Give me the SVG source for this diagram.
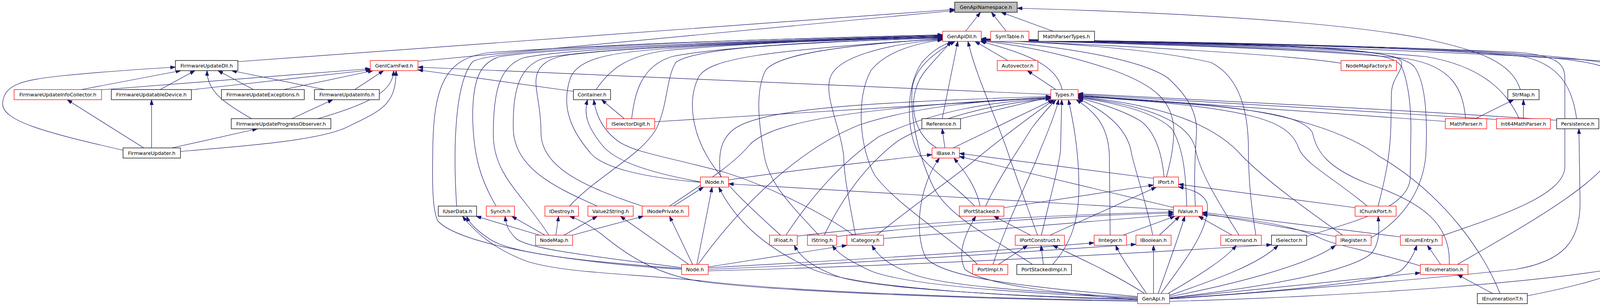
<svg xmlns="http://www.w3.org/2000/svg" width="4298" height="784" viewBox="0 0 4298 784">
<style>
.n rect{fill:#fff;stroke:#000;stroke-width:1.3}
.n.r rect{stroke:#ff0000}
.n.g rect{fill:#bfbfbf}
.n text{font-family:"DejaVu Sans","Liberation Sans",sans-serif;font-size:12.8px;text-anchor:middle;fill:#000}
#edges path{fill:none;stroke:#191970;stroke-width:1.2;marker-end:url(#arr)}
</style>
<defs>
<marker id="arr" markerUnits="userSpaceOnUse" markerWidth="13" markerHeight="9" refX="13" refY="4.5" orient="auto">
<path d="M0,0 L13,4.5 L0,9 z" fill="#191970" stroke="#191970" stroke-width="1"/>
</marker>
</defs>
<rect width="4298" height="784" fill="#fff"/>
<g id="edges">
<path d="M609,158 L2444,24"/>
<path d="M1070,157 L2444,27"/>
<path d="M208,229.5 L463,181"/>
<path d="M410,229.5 L499,181"/>
<path d="M644,304 C570,262 530,232 530,181"/>
<path d="M649,229.5 L558,181"/>
<path d="M831,229.5 L593,181"/>
<path d="M315,385 C120,340 0,310 7,262 C12,215 60,205 160,194 C280,182 380,176 449,172"/>
<path d="M260,230 L948,176"/>
<path d="M490,230 L950,179"/>
<path d="M726,229.5 L955,181"/>
<path d="M908,229.5 L982,181"/>
<path d="M814,304 C960,262 1005,230 1008,181"/>
<path d="M462,388 C620,375 820,360 890,325 C975,283 1014,270 1014,181"/>
<path d="M2690,242 L1070,172"/>
<path d="M1468,234 L1070,179"/>
<path d="M368,379 L172,255.5"/>
<path d="M388,379 L388,255.5"/>
<path d="M747,304 L852,255.5"/>
<path d="M440,379 L659,330"/>
<path d="M2472,80 L2510,31.5"/>
<path d="M2576,80 L2538,31.5"/>
<path d="M2696,80 L2563,31.5"/>
<path d="M3892,229.5 C3870,160 3790,130 3650,100 C3450,60 3100,35 2604,21"/>
<path d="M2580,155 L2496,106"/>
<path d="M2719,229.5 C2705,170 2640,140 2510,106"/>
<path d="M2703,229.5 L2630,181"/>
<path d="M2412,304 L2452,106"/>
<path d="M2459,304 L2690,248"/>
<path d="M2419,379 L2412,330"/>
<path d="M2398,379 C2330,340 2320,240 2370,180 C2395,150 2420,125 2435,106"/>
<path d="M2440,379 L2696,255.5"/>
<path d="M1745,690 C1450,672 1170,625 1120,565 C1105,530 1107,450 1108,380 C1110,220 1140,150 1250,135 C1600,110 2000,100 2413,89"/>
<path d="M1169,528 C1162,420 1158,220 1210,158 C1260,128 1700,105 2413,90"/>
<path d="M1270,528 C1230,460 1212,400 1210,300 C1210,200 1230,160 1280,145 C1400,125 1800,108 2413,91"/>
<path d="M1405,602.5 C1340,500 1265,450 1263,350 C1262,230 1280,170 1340,148 C1450,125 1850,108 2413,92"/>
<path d="M1529,528 C1420,480 1316,430 1314,330 C1312,230 1330,170 1390,150 C1500,125 1900,108 2413,93"/>
<path d="M1644,528 C1500,480 1385,430 1385,340 C1385,280 1372,240 1372,210 C1372,170 1400,148 1460,140 C1600,122 1950,108 2413,94"/>
<path d="M1793,467 C1650,455 1540,430 1510,390 C1450,320 1440,260 1460,200 C1480,150 1560,135 1700,125 C1900,110 2200,102 2413,95"/>
<path d="M1526,229.5 C1560,180 1600,145 1700,130 C1900,110 2200,100 2413,96"/>
<path d="M1617,304 C1625,240 1640,170 1720,145 C1850,118 2200,103 2413,97"/>
<path d="M1458,528 C1530,450 1640,400 1680,330 C1710,270 1705,200 1730,160 C1780,120 2100,105 2413,98"/>
<path d="M1998,602.5 C1930,540 1850,470 1810,400 C1770,330 1760,250 1790,195 C1820,150 1950,130 2413,99"/>
<path d="M2096,602.5 C2030,530 1965,470 1955,390 C1940,300 1935,230 1960,180 C1990,140 2150,115 2413,100"/>
<path d="M2190,602.5 C2175,520 2160,450 2160,400 C2150,320 2110,250 2125,200 C2140,150 2250,115 2413,101"/>
<path d="M2495,528 C2440,470 2360,420 2345,380 C2320,320 2320,220 2360,160 C2390,125 2420,112 2440,106"/>
<path d="M2643,677.5 C2560,620 2430,560 2390,480 C2350,400 2330,300 2335,230 C2340,170 2400,130 2445,106"/>
<path d="M2656,602.5 C2630,530 2600,450 2580,390 C2550,300 2500,200 2478,106"/>
<path d="M2502,677.5 C2450,620 2300,530 2240,450 C2200,380 2190,250 2230,180 C2270,130 2350,110 2413,102"/>
<path d="M2986,453.5 C2995,420 3005,380 3005,330 C3000,260 2960,220 2850,180 C2700,130 2580,112 2512,105"/>
<path d="M3060,528 C3057,470 3058,420 3063,340 C3066,290 3040,245 2990,200 C2920,150 2700,115 2512,104"/>
<path d="M3215,602.5 C3205,540 3196,470 3196,384 C3196,300 3180,200 3100,160 C2950,125 2700,108 2512,103"/>
<path d="M3433,162 C3300,140 2900,118 2512,102"/>
<path d="M3752,304 C3745,230 3720,170 3600,150 C3300,120 2800,110 2512,102"/>
<path d="M3889,304 C3860,240 3800,170 3650,145 C3300,115 2800,108 2512,101"/>
<path d="M4036,304 C4025,220 3990,165 3900,145 C3600,115 2900,108 2512,101"/>
<path d="M3528,528 C3548,450 3561,390 3561,300 L3562,240 C3563,200 3590,185 3588,160 C3585,140 3500,130 3300,120 C3000,110 2700,105 2512,103"/>
<path d="M3345,606 C3450,570 3600,540 3610,460 L3612,330 C3612,250 3600,200 3590,175 C3580,150 3540,140 3450,135 C3200,118 2800,108 2512,103"/>
<path d="M3510,609 C3580,570 3640,500 3650,400 C3655,300 3650,210 3620,170 C3590,140 3500,128 3300,118 C3000,108 2700,104 2512,102"/>
<path d="M3692,604 C3850,550 4000,500 4006,430 L4006,200 C4006,160 3980,145 3900,135 C3500,115 2900,106 2512,101"/>
<path d="M3731,677.5 C3900,580 4100,470 4140,380 C4175,300 4170,220 4100,170 C4000,130 3300,110 2512,100"/>
<path d="M3910,758 C4100,720 4241,680 4241,600 L4241,330 C4241,250 4200,190 4100,160 C3900,125 3300,110 2512,100"/>
<path d="M2994,772 C3400,762 4100,720 4250,660 C4289,640 4289,600 4289,560 L4289,230 C4289,180 4250,165 4150,160 C3900,140 3200,110 2512,99"/>
<path d="M1676,312 L2690,250"/>
<path d="M1844,453.5 C1840,400 1840,360 1880,330 C1950,280 2200,262 2690,247"/>
<path d="M1714,528 C1800,470 1880,420 1920,370 C1980,310 2200,275 2690,249"/>
<path d="M1787,677.5 C1900,520 2050,380 2200,320 C2350,270 2550,255 2690,251"/>
<path d="M2012,602.5 C2080,500 2150,420 2250,350 C2400,280 2550,260 2690,252"/>
<path d="M2110,602.5 C2160,500 2220,420 2300,360 C2420,290 2580,262 2690,253"/>
<path d="M2245,602.5 C2320,540 2420,470 2490,415 C2580,340 2650,290 2698,255.5"/>
<path d="M2523,528 C2560,450 2610,380 2640,330 C2670,290 2690,270 2703,255.5"/>
<path d="M2542,677.5 C2580,560 2640,450 2663,384 C2690,320 2705,280 2710,255.5"/>
<path d="M2666,602.5 C2690,500 2712,420 2715,384 L2718,255.5"/>
<path d="M2695,677.5 C2745,620 2762,560 2762,480 C2762,380 2745,300 2735,255.5"/>
<path d="M2842,602.5 L2840,400 C2838,330 2810,290 2755,255.5"/>
<path d="M2951,602.5 C2930,500 2900,420 2895,384 C2880,320 2820,280 2760,253"/>
<path d="M2980,453.5 C2975,400 2960,340 2920,310 C2870,280 2800,260 2760,251"/>
<path d="M3038,528 C3036,450 3030,380 3000,330 C2950,280 2820,258 2760,250"/>
<path d="M3172,602.5 C3120,520 3070,440 3060,380 C3040,300 2900,265 2760,249"/>
<path d="M3437,602.5 C3350,540 3250,470 3180,400 C3120,330 3000,270 2760,248"/>
<path d="M3500,528 C3420,460 3340,420 3325,380 C3300,310 3220,275 2760,247"/>
<path d="M3710,677.5 C3715,580 3650,520 3500,470 C3400,430 3370,390 3360,340 C3330,290 3200,275 2760,246"/>
<path d="M3840,752 C3800,650 3700,500 3530,400 C3450,340 3300,290 3100,270 C2950,258 2850,252 2760,245"/>
<path d="M3700,311 L2760,244"/>
<path d="M3831,306 C3500,285 3000,255 2760,242"/>
<path d="M3985,308 C3600,282 3000,252 2760,240"/>
<path d="M3777,304 L3875,255.5"/>
<path d="M3900,304 L3900,255.5"/>
<path d="M1865,461 C2000,440 2200,418 2386,396"/>
<path d="M2953,457 L2456,393"/>
<path d="M3006,532 L2456,401"/>
<path d="M2912,760 C2700,740 2420,720 2370,660 C2340,600 2350,480 2405,405"/>
<path d="M2509,528 C2500,480 2470,440 2442,405"/>
<path d="M2570,532 L2953,474"/>
<path d="M2688,602.5 L2960,479.5"/>
<path d="M2972,752 C3040,660 3100,580 3090,520 C3080,495 3050,485 3017,479"/>
<path d="M2912,768 C2700,750 2520,730 2470,690 C2450,650 2470,600 2498,554"/>
<path d="M2638,602.5 L2544,554"/>
<path d="M3004,538 C2700,520 2300,498 1865,471"/>
<path d="M2041,605 C2300,572 2700,550 3004,543"/>
<path d="M2142,606 C2400,574 2750,552 3004,546"/>
<path d="M2262,611 L3004,550"/>
<path d="M2875,602.5 L3008,554"/>
<path d="M2968,602.5 L3020,554"/>
<path d="M2965,752 C2990,680 3020,600 3033,554"/>
<path d="M3154,602.5 L3068,554"/>
<path d="M2556,677.5 L2631,628.5"/>
<path d="M2671,677.5 L2665,628.5"/>
<path d="M2930,752 C2850,700 2760,660 2695,628.5"/>
<path d="M1813,686 C2200,665 2600,640 2801,622"/>
<path d="M1813,690 C2200,675 2700,640 2908,626"/>
<path d="M1813,694 C2300,682 2900,650 3255,627"/>
<path d="M2935,752 C2900,700 2870,660 2856,628.5"/>
<path d="M2953,752 L2953,628.5"/>
<path d="M2990,752 C3080,700 3140,660 3165,628.5"/>
<path d="M2994,757 C3100,720 3220,680 3272,628.5"/>
<path d="M2994,760 C3150,730 3350,680 3419,628.5"/>
<path d="M2994,763 C3200,740 3450,700 3510,650 C3535,620 3530,580 3528,554"/>
<path d="M2994,765 C3300,745 3560,720 3590,690 C3610,670 3620,650 3627,628.5"/>
<path d="M2994,764 L3636,699"/>
<path d="M3688,677.5 L3654,628.5"/>
<path d="M3821,752 L3731,703.5"/>
<path d="M2994,766 C3300,745 3700,710 3880,690 C4000,670 4045,620 4045,520 L4042,330"/>
<path d="M3469,532 L3017,472"/>
<path d="M3420,606 L3078,546"/>
<path d="M3585,607 L3078,544"/>
<path d="M3636,681 C3500,640 3420,630 3380,610 C3320,580 3200,560 3078,550"/>
<path d="M2912,762 C2600,745 2400,730 2330,700 C2280,680 2250,660 2232,628.5"/>
<path d="M2912,764 C2600,750 2300,730 2220,690 C2170,665 2145,650 2131,628.5"/>
<path d="M2912,766 C2600,760 2250,740 2150,710 C2080,685 2050,660 2033,628.5"/>
<path d="M2912,768 C2600,760 2200,740 2080,690 C1950,630 1880,560 1840,479.5"/>
<path d="M2912,770 C2500,765 2000,745 1800,720 C1600,700 1450,700 1350,670 C1270,640 1220,600 1184,554"/>
<path d="M2912,772 C2500,766 2000,748 1800,722 C1680,705 1600,650 1540,600 C1500,570 1475,560 1458,554"/>
<path d="M1784,677.5 L1823,479.5"/>
<path d="M1773,677.5 L1714,554"/>
<path d="M1763,677.5 L1588,554"/>
<path d="M1745,686 C1550,660 1350,640 1320,610 C1300,590 1295,575 1293,554"/>
<path d="M1745,688 C1500,670 1300,650 1250,610 C1220,590 1200,570 1195,554"/>
<path d="M1813,684 L2168,628.5"/>
<path d="M1381,602.5 L1219,554"/>
<path d="M1395,602.5 L1310,554"/>
<path d="M1423,602.5 L1430,554"/>
<path d="M1444,602.5 L1529,554"/>
<path d="M1465,602.5 L1647,554"/>
<path d="M1724,528 L1801,479.5"/>
<path d="M1793,466 C1650,440 1570,410 1540,370 C1500,320 1495,290 1504,255.5"/>
<path d="M2185,602.5 C2100,540 1950,470 1850,440 C1700,400 1620,390 1580,360 C1540,330 1525,290 1520,255.5"/>
<path d="M1598,304 L1540,255.5"/>
</g>
<g id="n_GenApiNamespace" class="n g"><rect x="2444" y="5.5" width="160" height="26"/><text x="2524" y="23.1">GenApiNamespace.h</text></g>
<g id="n_GenApiDll" class="n r"><rect x="2413" y="80" width="99" height="26"/><text x="2462.5" y="97.6">GenApiDll.h</text></g>
<g id="n_SymTable" class="n r"><rect x="2536" y="80" width="98" height="26"/><text x="2585" y="97.6">SymTable.h</text></g>
<g id="n_MathParserTypes" class="n"><rect x="2658" y="80" width="144" height="26"/><text x="2730" y="97.6">MathParserTypes.h</text></g>
<g id="n_FirmwareUpdateDll" class="n"><rect x="449" y="155" width="160" height="26"/><text x="529" y="172.6">FirmwareUpdateDll.h</text></g>
<g id="n_GenICamFwd" class="n r"><rect x="948" y="155" width="122" height="26"/><text x="1009" y="172.6">GenICamFwd.h</text></g>
<g id="n_Autovector" class="n r"><rect x="2553" y="155" width="104" height="26"/><text x="2605" y="172.6">Autovector.h</text></g>
<g id="n_NodeMapFactory" class="n r"><rect x="3433" y="155" width="142" height="26"/><text x="3504" y="172.6">NodeMapFactory.h</text></g>
<g id="n_FirmwareUpdateInfoCollector" class="n r"><rect x="36" y="229.5" width="224" height="26"/><text x="148" y="247.1">FirmwareUpdateInfoCollector.h</text></g>
<g id="n_FirmwareUpdatableDevice" class="n"><rect x="285" y="229.5" width="205" height="26"/><text x="387.5" y="247.1">FirmwareUpdatableDevice.h</text></g>
<g id="n_FirmwareUpdateExceptions" class="n"><rect x="567" y="229.5" width="212" height="26"/><text x="673" y="247.1">FirmwareUpdateExceptions.h</text></g>
<g id="n_FirmwareUpdateInfo" class="n"><rect x="805" y="229.5" width="166" height="26"/><text x="888" y="247.1">FirmwareUpdateInfo.h</text></g>
<g id="n_Container" class="n"><rect x="1468" y="229.5" width="95" height="26"/><text x="1515.5" y="247.1">Container.h</text></g>
<g id="n_Types" class="n r"><rect x="2690" y="229.5" width="70" height="26"/><text x="2725" y="247.1">Types.h</text></g>
<g id="n_StrMap" class="n"><rect x="3860" y="229.5" width="80" height="26"/><text x="3900" y="247.1">StrMap.h</text></g>
<g id="n_FirmwareUpdateProgressObserver" class="n"><rect x="592" y="304" width="255" height="26"/><text x="719.5" y="321.6">FirmwareUpdateProgressObserver.h</text></g>
<g id="n_ISelectorDigit" class="n r"><rect x="1553" y="304" width="123" height="26"/><text x="1614.5" y="321.6">ISelectorDigit.h</text></g>
<g id="n_Reference" class="n"><rect x="2360" y="304" width="99" height="26"/><text x="2409.5" y="321.6">Reference.h</text></g>
<g id="n_MathParser" class="n r"><rect x="3700" y="304" width="106" height="26"/><text x="3753" y="321.6">MathParser.h</text></g>
<g id="n_Int64MathParser" class="n r"><rect x="3831" y="304" width="138" height="26"/><text x="3900" y="321.6">Int64MathParser.h</text></g>
<g id="n_Persistence" class="n"><rect x="3985" y="304" width="108" height="26"/><text x="4039" y="321.6">Persistence.h</text></g>
<g id="n_FirmwareUpdater" class="n"><rect x="315" y="379" width="147" height="26"/><text x="388.5" y="396.6">FirmwareUpdater.h</text></g>
<g id="n_IBase" class="n r"><rect x="2386" y="379" width="70" height="26"/><text x="2421" y="396.6">IBase.h</text></g>
<g id="n_INode" class="n r"><rect x="1793" y="453.5" width="72" height="26"/><text x="1829" y="471.1">INode.h</text></g>
<g id="n_IPort" class="n r"><rect x="2953" y="453.5" width="64" height="26"/><text x="2985" y="471.1">IPort.h</text></g>
<g id="n_IUserData" class="n"><rect x="1122" y="528" width="98" height="26"/><text x="1171" y="545.6">IUserData.h</text></g>
<g id="n_Synch" class="n r"><rect x="1245" y="528" width="72" height="26"/><text x="1281" y="545.6">Synch.h</text></g>
<g id="n_IDestroy" class="n r"><rect x="1395" y="528" width="86" height="26"/><text x="1438" y="545.6">IDestroy.h</text></g>
<g id="n_Value2String" class="n r"><rect x="1505" y="528" width="116" height="26"/><text x="1563" y="545.6">Value2String.h</text></g>
<g id="n_INodePrivate" class="n r"><rect x="1644" y="528" width="119" height="26"/><text x="1703.5" y="545.6">INodePrivate.h</text></g>
<g id="n_IPortStacked" class="n r"><rect x="2456" y="528" width="114" height="26"/><text x="2513" y="545.6">IPortStacked.h</text></g>
<g id="n_IValue" class="n r"><rect x="3004" y="528" width="74" height="26"/><text x="3041" y="545.6">IValue.h</text></g>
<g id="n_IChunkPort" class="n r"><rect x="3469" y="528" width="105" height="26"/><text x="3521.5" y="545.6">IChunkPort.h</text></g>
<g id="n_NodeMap" class="n r"><rect x="1371" y="602.5" width="95" height="26"/><text x="1418.5" y="620.1">NodeMap.h</text></g>
<g id="n_IFloat" class="n r"><rect x="1970" y="602.5" width="71" height="26"/><text x="2005.5" y="620.1">IFloat.h</text></g>
<g id="n_IString" class="n r"><rect x="2067" y="602.5" width="75" height="26"/><text x="2104.5" y="620.1">IString.h</text></g>
<g id="n_ICategory" class="n r"><rect x="2168" y="602.5" width="94" height="26"/><text x="2215" y="620.1">ICategory.h</text></g>
<g id="n_IPortConstruct" class="n r"><rect x="2599" y="602.5" width="126" height="26"/><text x="2662" y="620.1">IPortConstruct.h</text></g>
<g id="n_IInteger" class="n r"><rect x="2801" y="602.5" width="83" height="26"/><text x="2842.5" y="620.1">IInteger.h</text></g>
<g id="n_IBoolean" class="n r"><rect x="2908" y="602.5" width="90" height="26"/><text x="2953" y="620.1">IBoolean.h</text></g>
<g id="n_ICommand" class="n r"><rect x="3125" y="602.5" width="104" height="26"/><text x="3177" y="620.1">ICommand.h</text></g>
<g id="n_ISelector" class="n"><rect x="3255" y="602.5" width="90" height="26"/><text x="3300" y="620.1">ISelector.h</text></g>
<g id="n_IRegister" class="n r"><rect x="3420" y="602.5" width="90" height="26"/><text x="3465" y="620.1">IRegister.h</text></g>
<g id="n_IEnumEntry" class="n r"><rect x="3585" y="602.5" width="107" height="26"/><text x="3638.5" y="620.1">IEnumEntry.h</text></g>
<g id="n_Node" class="n r"><rect x="1745" y="677.5" width="68" height="26"/><text x="1779" y="695.1">Node.h</text></g>
<g id="n_PortImpl" class="n r"><rect x="2490" y="677.5" width="90" height="26"/><text x="2535" y="695.1">PortImpl.h</text></g>
<g id="n_PortStackedImpl" class="n"><rect x="2603" y="677.5" width="140" height="26"/><text x="2673" y="695.1">PortStackedImpl.h</text></g>
<g id="n_IEnumeration" class="n r"><rect x="3636" y="677.5" width="122" height="26"/><text x="3697" y="695.1">IEnumeration.h</text></g>
<g id="n_GenApi" class="n r"><rect x="2912" y="752" width="82" height="26"/><text x="2953" y="769.6">GenApi.h</text></g>
<g id="n_IEnumerationT" class="n"><rect x="3782" y="752" width="128" height="26"/><text x="3846" y="769.6">IEnumerationT.h</text></g>
</svg>
